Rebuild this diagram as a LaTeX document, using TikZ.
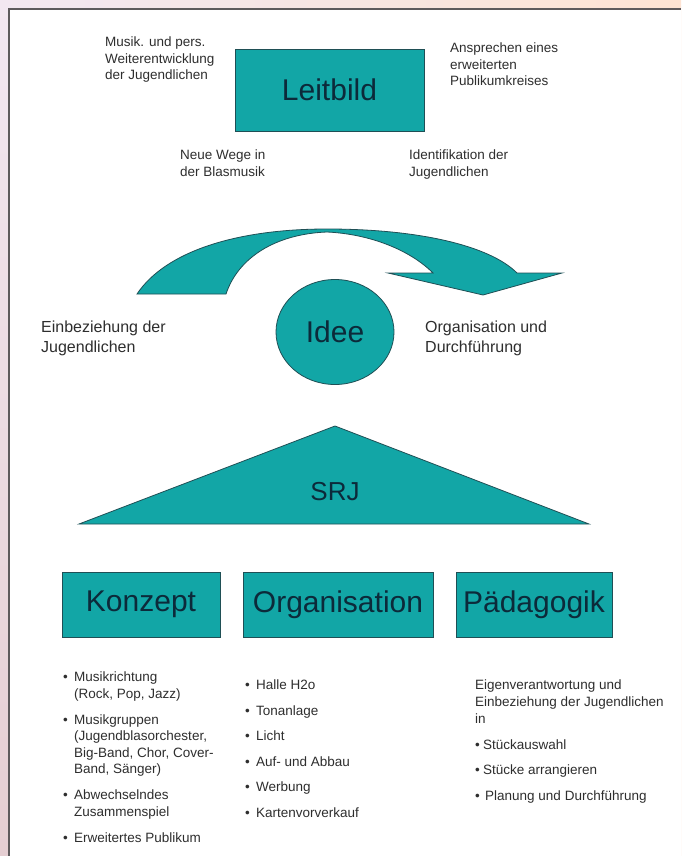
\documentclass[tikz,border=0pt]{standalone}
\usepackage{fontspec}
\setmainfont{Liberation Sans}
\usetikzlibrary{shapes.geometric}
\definecolor{teal1}{HTML}{12A6A6}
\definecolor{edge1}{HTML}{1F4F55}
\definecolor{lbl}{HTML}{0C2A3A}
\definecolor{txt}{HTML}{2E2E2E}
\definecolor{frame}{HTML}{5E5A5C}
\definecolor{bgA}{HTML}{F3E7F1}
\definecolor{bgB}{HTML}{FDE3D3}
\definecolor{bgC}{HTML}{E5CED2}
\newcommand{\bul}{\makebox[11pt][l]{\textbullet}}
\newcommand{\ind}{\hspace*{11pt}}
\begin{document}
\begin{tikzpicture}[x=1pt,y=-1pt,
  shapebox/.style={draw=edge1, line width=0.8pt, fill=teal1, text=lbl, font=\fontsize{30}{30}\selectfont, inner sep=0pt},
  small/.style={text=txt, align=left, inner sep=0pt, anchor=north west, font=\fontsize{13.5}{16.5}\selectfont},
  mid/.style={text=txt, align=left, inner sep=0pt, anchor=north west, font=\fontsize{16}{20}\selectfont}]
\useasboundingbox (0,0) rectangle (681,856);
\shade[left color=bgA, right color=bgB] (0,0) rectangle (681,856);
\shade[top color=bgA, bottom color=bgC] (0,0) rectangle (9,856);
\fill[white] (9,9) rectangle (681,856);
\draw[frame, line width=2pt] (9,856) -- (9,9) -- (681,9);

% Leitbild
\node[shapebox, minimum width=189pt, minimum height=82pt] (leit) at (329.5,90) {Leitbild};
\node[small] (t1) at (105,37) {Musik. und pers.\\Weiterentwicklung\\der Jugendlichen};
\node[small] (t2) at (450,43) {Ansprechen eines\\erweiterten\\Publikumkreises};
\node[small] (t3) at (180,150) {Neue Wege in\\der Blasmusik};
\node[small] (t4) at (409,150) {Identifikation der\\Jugendlichen};

% curved arrow
\draw[draw=edge1, line width=0.8pt, fill=teal1, line join=miter]
  (137,294) .. controls (165,252) and (235,229) .. (327,229)
  .. controls (420,229) and (490,246) .. (517,273)
  -- (562,273) -- (483,295) -- (388,273) -- (433,273)
  .. controls (410,250) and (370,234) .. (327,232)
  .. controls (275,234) and (238,258) .. (226,294) -- cycle;

% Idee
\node[shapebox, ellipse, minimum width=118pt, minimum height=105pt] (idee) at (335,332) {Idee};
\node[mid] (m1) at (41,321) {Einbeziehung der\\Jugendlichen};
\node[mid] (m2) at (425,321) {Organisation und\\Durchführung};

% SRJ triangle
\coordinate (ta) at (335,426);
\coordinate (tl) at (79,524);
\coordinate (tr) at (589,524);
\draw[draw=edge1, line width=0.8pt, fill=teal1] (ta) -- (tr) -- (tl) -- cycle;
\node[text=lbl, font=\fontsize{26}{26}\selectfont, inner sep=0pt] (srj) at (335,492) {SRJ};

% three pillars
\node[shapebox, minimum width=158pt, minimum height=65pt] (konz) at (141,604.5) {Konzept};
\node[shapebox, minimum width=190pt, minimum height=65pt] (orga) at (338,604.5) {Organisation};
\node[shapebox, minimum width=156pt, minimum height=65pt] (paed) at (534,604.5) {Pädagogik};

% lists
\node[small] (l1) at (63,672) {\bul Musikrichtung\\\ind(Rock, Pop, Jazz)\\[9.5pt]\bul Musikgruppen\\\ind(Jugendblasorchester,\\\ind Big-Band, Chor, Cover-\\\ind Band, Sänger)\\[9.5pt]\bul Abwechselndes\\\ind Zusammenspiel\\[9.5pt]\bul Erweitertes Publikum};
\node[small] (l2) at (245,680) {\bul Halle H2o\\[9pt]\bul Tonanlage\\[9pt]\bul Licht\\[9pt]\bul Auf- und Abbau\\[9pt]\bul Werbung\\[9pt]\bul Kartenvorverkauf};
\node[small, font=\fontsize{13.5}{17}\selectfont] (l3) at (475,680) {Eigenverantwortung und\\Einbeziehung der Jugendlichen\\in\\[8.5pt]\makebox[8pt][l]{\textbullet}Stückauswahl\\[8.5pt]\makebox[8pt][l]{\textbullet}Stücke arrangieren\\[8.5pt]\makebox[10pt][l]{\textbullet}Planung und Durchführung};
\end{tikzpicture}
\end{document}
